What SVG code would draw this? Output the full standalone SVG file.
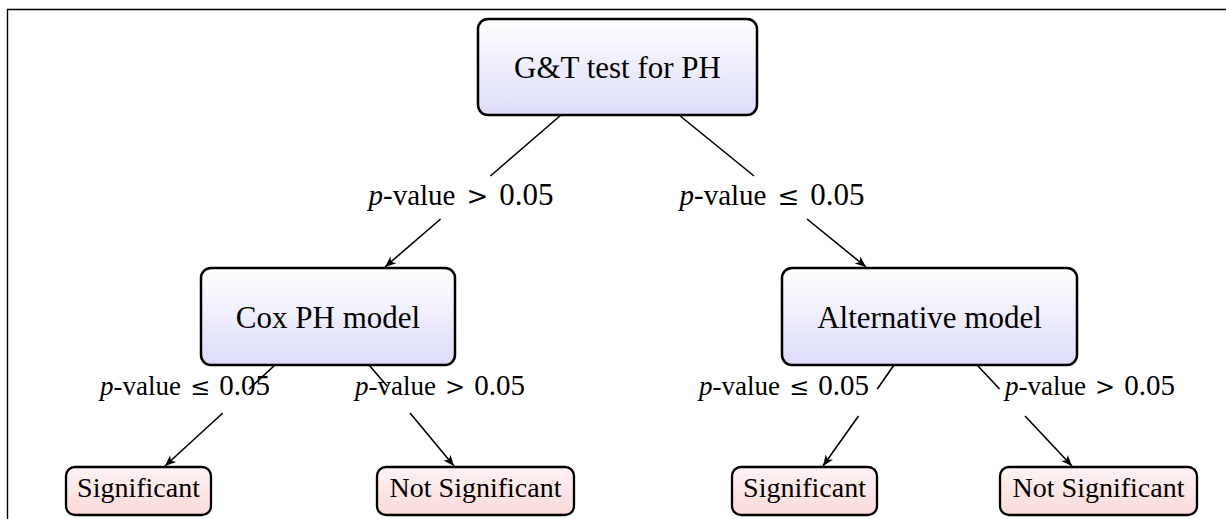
<svg xmlns="http://www.w3.org/2000/svg" width="1226" height="519" viewBox="0 0 1226 519">
<defs>
<linearGradient id="gBlue" x1="0" y1="0" x2="0" y2="1">
<stop offset="0" stop-color="#ffffff"/>
<stop offset="1" stop-color="#dcdcfa"/>
</linearGradient>
<linearGradient id="gRed" x1="0" y1="0" x2="0" y2="1">
<stop offset="0" stop-color="#fff3f3"/>
<stop offset="1" stop-color="#fbd9d9"/>
</linearGradient>
<marker id="arr" markerUnits="userSpaceOnUse" markerWidth="14" markerHeight="12" viewBox="-12 -6 14 12" refX="0" refY="0" orient="auto">
<path d="M0,0 L-11,-4.5 L-8,0 L-11,4.5 Z" fill="#000"/>
</marker>
<style>
.big{fill:url(#gBlue);stroke:#000;stroke-width:2.5}
.leaf{fill:url(#gRed);stroke:#000;stroke-width:2.3}
.t{font-family:"Liberation Serif","Times New Roman",serif;fill:#000;text-anchor:middle}
.tb{font-size:31px}
.tl{font-size:28px}
.lab1{font-size:29px}
.lab2{font-size:27px}
.r1{font-family:"DejaVu Serif",serif;font-size:26px}
.d1{font-size:31px}
.r2{font-family:"DejaVu Serif",serif;font-size:24px}
.d2{font-size:29px}
.e{stroke:#000;stroke-width:1.6;fill:none}
.frame{stroke:#000;stroke-width:1.4;fill:none}
</style>
</defs>
<path class="frame" d="M7.5,519 L7.5,9.5 L1226,9.5"/>
<g id="connectors">
<path class="e" d="M561,115 L490.4,176"/>
<path class="e" d="M440.6,219 L385,267" marker-end="url(#arr)"/>
<path class="e" d="M679,115 L754,176"/>
<path class="e" d="M807,219 L866,267" marker-end="url(#arr)"/>
<path class="e" d="M275,365 L249,389"/>
<path class="e" d="M222.8,413 L165,466" marker-end="url(#arr)"/>
<path class="e" d="M369,365 L387,386"/>
<path class="e" d="M410,413 L454,466" marker-end="url(#arr)"/>
<path class="e" d="M894,365 L877.3,389"/>
<path class="e" d="M858.5,416 L823,466" marker-end="url(#arr)"/>
<path class="e" d="M977,365 L999.6,389"/>
<path class="e" d="M1025,416 L1072,466" marker-end="url(#arr)"/>
</g>
<g id="labels">
<text class="t lab1" x="461" y="205"><tspan font-style="italic">p</tspan>-value<tspan class="r1" dx="11">&gt;</tspan><tspan class="d1" dx="11">0.05</tspan></text>
<text class="t lab1" x="772" y="205"><tspan font-style="italic">p</tspan>-value<tspan class="r1" dx="11">≤</tspan><tspan class="d1" dx="11">0.05</tspan></text>
<text class="t lab2" x="185" y="395"><tspan font-style="italic">p</tspan>-value<tspan class="r2" dx="9">≤</tspan><tspan class="d2" dx="9">0.05</tspan></text>
<text class="t lab2" x="440" y="395"><tspan font-style="italic">p</tspan>-value<tspan class="r2" dx="9">&gt;</tspan><tspan class="d2" dx="9">0.05</tspan></text>
<text class="t lab2" x="784" y="395"><tspan font-style="italic">p</tspan>-value<tspan class="r2" dx="9">≤</tspan><tspan class="d2" dx="9">0.05</tspan></text>
<text class="t lab2" x="1090" y="395"><tspan font-style="italic">p</tspan>-value<tspan class="r2" dx="9">&gt;</tspan><tspan class="d2" dx="9">0.05</tspan></text>
</g>
<g id="n_root">
<rect class="big" x="478" y="19" width="279" height="96" rx="10"/>
<text class="t tb" x="617.5" y="78">G&amp;T test for PH</text>
</g>
<g id="n_cox">
<rect class="big" x="201" y="268" width="254" height="97" rx="10"/>
<text class="t tb" x="328" y="328">Cox PH model</text>
</g>
<g id="n_alt">
<rect class="big" x="782" y="268" width="295" height="97" rx="10"/>
<text class="t tb" x="929.5" y="328">Alternative model</text>
</g>
<g id="n_sig1">
<rect class="leaf" x="66" y="467" width="145" height="48" rx="9"/>
<text class="t tl" x="138.5" y="497">Significant</text>
</g>
<g id="n_nsig1">
<rect class="leaf" x="377" y="467" width="197" height="48" rx="9"/>
<text class="t tl" x="475.5" y="497">Not Significant</text>
</g>
<g id="n_sig2">
<rect class="leaf" x="732" y="467" width="145" height="48" rx="9"/>
<text class="t tl" x="804.5" y="497">Significant</text>
</g>
<g id="n_nsig2">
<rect class="leaf" x="1000" y="467" width="197" height="48" rx="9"/>
<text class="t tl" x="1098.5" y="497">Not Significant</text>
</g>
</svg>
